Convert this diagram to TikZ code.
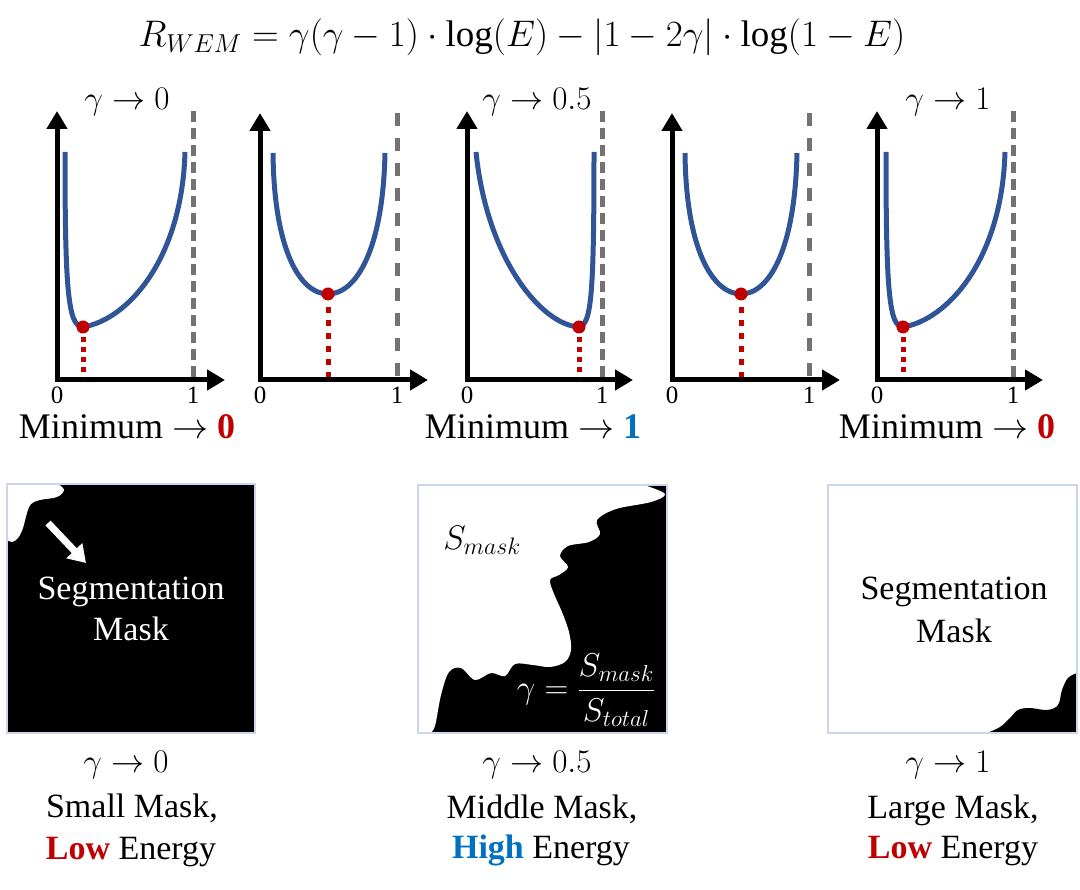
\RequirePackage{fix-cm}
\documentclass[tikz,border=0pt]{standalone}
\usepackage{fontspec}
\setmainfont{Liberation Serif}
\usetikzlibrary{arrows.meta}
\definecolor{cblue}{HTML}{2F5597}
\definecolor{cgray}{HTML}{767171}
\definecolor{cred}{HTML}{C00000}
\definecolor{hblue}{HTML}{0070C0}
\definecolor{edgeblue}{HTML}{C9D6EE}
\tikzset{
  axisline/.style={black, line width=5pt, line cap=rect, -{Triangle[length=18pt,width=20pt]}},
  curveline/.style={cblue, line width=5pt},
  asymA/.style={cgray, line width=5pt, dash pattern=on 11pt off 6pt},
  asymB/.style={cgray, line width=5pt, dash pattern=on 13pt off 12pt},
  dropA/.style={cred, line width=5pt, dash pattern=on 5pt off 5pt},
  dropB/.style={cred, line width=5pt, dash pattern=on 6pt off 7pt},
  mindot/.style={circle, fill=cred, inner sep=0pt, minimum size=13pt},
  ticklab/.style={font=\fontsize{25}{28}\selectfont, inner sep=0pt, anchor=base},
  titlelab/.style={font=\fontsize{33}{36}\selectfont, inner sep=0pt, anchor=base},
  minlab/.style={font=\fontsize{36}{40}\selectfont, inner sep=0pt, anchor=base},
  masktxt/.style={font=\fontsize{34}{40}\selectfont, inner sep=0pt, anchor=base},
  bottxt/.style={font=\fontsize{34}{40}\selectfont, inner sep=0pt, anchor=base},
  botmath/.style={font=\fontsize{33}{36}\selectfont, inner sep=0pt, anchor=base},
  maskedge/.style={draw=edgeblue, line width=1.5pt},
  whitearrow/.style={white, line width=7pt, -{Triangle[length=17pt,width=21pt]}}
}
\begin{document}
\begin{tikzpicture}[x=1pt,y=-1pt]
\useasboundingbox (0,0) rectangle (1080,890);

% formula
\node[font=\fontsize{37}{42}\selectfont, inner sep=0pt, anchor=base] (formula) at (522,47)
  {$R_{WEM}=\gamma(\gamma-1)\cdot\log(E)-|1-2\gamma|\cdot\log(1-E)$};

% ---------- plot 1 ----------
\begin{scope}[shift={(57,0)}]
\coordinate (o1) at (0,380); \coordinate (yt1) at (0,111); \coordinate (xt1) at (168,380);
\coordinate (dt1) at (136,111); \coordinate (db1) at (136,378);
\coordinate (s1) at (8,152); \coordinate (m1) at (26,327); \coordinate (e1) at (128,152);
\coordinate (f1) at (26,378);
\draw[asymA] (dt1) -- (db1);
\draw[dropA] (m1) -- (f1);
\draw[curveline] (s1) .. controls (8,290) and (11,327) .. (m1) .. controls (70,320) and (125,260) .. (e1);
\node[mindot] (dot1) at (m1) {};
\draw[axisline] (o1) -- (yt1);
\draw[axisline] (o1) -- (xt1);
\node[ticklab] (z1) at (0,404) {0};
\node[ticklab] (u1) at (136,404) {1};
\node[titlelab] (t1) at (70,110) {$\gamma\rightarrow 0$};
\node[minlab] (n1) at (70,439) {Minimum $\rightarrow$ \textcolor{cred}{\textbf{0}}};
\end{scope}

% ---------- plot 2 ----------
\begin{scope}[shift={(260,0)}]
\coordinate (o2) at (0,380); \coordinate (yt2) at (0,113); \coordinate (xt2) at (168,380);
\coordinate (dt2) at (137,113); \coordinate (db2) at (137,378);
\coordinate (s2) at (13,153); \coordinate (m2) at (68,294); \coordinate (e2) at (125,153);
\coordinate (f2) at (68,378);
\draw[asymB] (dt2) -- (db2);
\draw[dropB] (m2) -- (f2);
\draw[curveline] (s2) .. controls (14,250) and (40,294) .. (m2) .. controls (96,294) and (123,250) .. (e2);
\node[mindot] (dot2) at (m2) {};
\draw[axisline] (o2) -- (yt2);
\draw[axisline] (o2) -- (xt2);
\node[ticklab] (z2) at (0,404) {0};
\node[ticklab] (u2) at (137,404) {1};
\end{scope}

% ---------- plot 3 ----------
\begin{scope}[shift={(467,0)}]
\coordinate (o3) at (0,380); \coordinate (yt3) at (0,111); \coordinate (xt3) at (166,380);
\coordinate (dt3) at (135,111); \coordinate (db3) at (135,378);
\coordinate (s3) at (9,152); \coordinate (m3) at (112,327); \coordinate (e3) at (127,152);
\coordinate (f3) at (112,378);
\draw[asymA] (dt3) -- (db3);
\draw[dropA] (m3) -- (f3);
\draw[curveline] (s3) .. controls (20,260) and (75,325) .. (m3) .. controls (124,324) and (127,300) .. (e3);
\node[mindot] (dot3) at (m3) {};
\draw[axisline] (o3) -- (yt3);
\draw[axisline] (o3) -- (xt3);
\node[ticklab] (z3) at (0,404) {0};
\node[ticklab] (u3) at (135,404) {1};
\node[titlelab] (t3) at (70,110) {$\gamma\rightarrow 0.5$};
\node[minlab] (n3) at (66,439) {Minimum $\rightarrow$ \textcolor{hblue}{\textbf{1}}};
\end{scope}

% ---------- plot 4 ----------
\begin{scope}[shift={(672,0)}]
\coordinate (o4) at (0,380); \coordinate (yt4) at (0,113); \coordinate (xt4) at (168,380);
\coordinate (dt4) at (137,113); \coordinate (db4) at (137,378);
\coordinate (s4) at (13,153); \coordinate (m4) at (69,294); \coordinate (e4) at (125,153);
\coordinate (f4) at (69,378);
\draw[asymB] (dt4) -- (db4);
\draw[dropB] (m4) -- (f4);
\draw[curveline] (s4) .. controls (14,250) and (41,294) .. (m4) .. controls (97,294) and (123,250) .. (e4);
\node[mindot] (dot4) at (m4) {};
\draw[axisline] (o4) -- (yt4);
\draw[axisline] (o4) -- (xt4);
\node[ticklab] (z4) at (0,404) {0};
\node[ticklab] (u4) at (137,404) {1};
\end{scope}

% ---------- plot 5 ----------
\begin{scope}[shift={(877,0)}]
\coordinate (o5) at (0,380); \coordinate (yt5) at (0,111); \coordinate (xt5) at (166,380);
\coordinate (dt5) at (136,111); \coordinate (db5) at (136,378);
\coordinate (s5) at (9,152); \coordinate (m5) at (26,327); \coordinate (e5) at (128,152);
\coordinate (f5) at (26,378);
\draw[asymA] (dt5) -- (db5);
\draw[dropA] (m5) -- (f5);
\draw[curveline] (s5) .. controls (9,290) and (12,327) .. (m5) .. controls (70,320) and (125,260) .. (e5);
\node[mindot] (dot5) at (m5) {};
\draw[axisline] (o5) -- (yt5);
\draw[axisline] (o5) -- (xt5);
\node[ticklab] (z5) at (0,404) {0};
\node[ticklab] (u5) at (136,404) {1};
\node[titlelab] (t5) at (71,110) {$\gamma\rightarrow 1$};
\node[minlab] (n5) at (70,439) {Minimum $\rightarrow$ \textcolor{cred}{\textbf{0}}};
\end{scope}

% ---------- mask 1 (small) ----------
\fill[black] (7,484) rectangle (255,733);
\fill[white] (7,484) -- plot[smooth, tension=0.6] coordinates {(58,484) (64,490) (57,497) (40,500) (31,504) (27,513) (23,528) (18,538) (12,542) (7,540)} -- cycle;
\draw[maskedge] (7,484) rectangle (255,733);
\coordinate (a1s) at (48,523); \coordinate (a1e) at (86,563);
\draw[whitearrow] (a1s) -- (a1e);
\node[masktxt, text=white] (sm1) at (131,600) {Segmentation};
\node[masktxt, text=white] (mm1) at (131,641) {Mask};

% ---------- mask 2 (middle) ----------
\fill[black] (418,485) rectangle (667,733);
\fill[white] (418,485) -- plot[smooth, tension=0.55] coordinates {(644,485) (665,494) (651,502) (616,509) (597,520) (600,534) (589,542) (568,546) (560,556) (568,567) (559,575) (550,580) (554,594) (562,612) (569,632) (571,650) (565,662) (550,667) (533,665) (515,664) (505,676) (491,673) (475,680) (461,668) (449,672) (441,695) (435,726) (430,733)} -- (418,733) -- cycle;
\draw[maskedge] (418,485) rectangle (667,733);
\node[font=\fontsize{34}{38}\selectfont, inner sep=0pt] (smask) at (482,540) {$S_{mask}$};
\node[font=\fontsize{33}{36}\selectfont, inner sep=0pt, text=white] (gfrac) at (586,690) {$\displaystyle\gamma=\frac{S_{mask}}{S_{total}}$};

% ---------- mask 3 (large) ----------
\fill[white] (828,485) rectangle (1077,733);
\fill[black] (1077,733) -- (1077,673) -- plot[smooth, tension=0.6] coordinates {(1077,673) (1068,678) (1062,690) (1058,705) (1047,710) (1030,708) (1018,710) (1010,718) (1000,727) (987,733)} -- cycle;
\draw[maskedge] (828,485) rectangle (1077,733);
\node[masktxt] (sm3) at (954,600) {Segmentation};
\node[masktxt] (mm3) at (954,642) {Mask};

% ---------- bottom captions ----------
\node[botmath] (g1) at (126,772) {$\gamma\rightarrow 0$};
\node[bottxt] (c1) at (132,817) {Small Mask,};
\node[bottxt] (l1) at (131,859) {\textcolor{cred}{\textbf{Low}} Energy};

\node[botmath] (g2) at (537,772) {$\gamma\rightarrow 0.5$};
\node[bottxt] (c2) at (542,818) {Middle Mask,};
\node[bottxt] (l2) at (541,858) {\textcolor{hblue}{\textbf{High}} Energy};

\node[botmath] (g3) at (948,772) {$\gamma\rightarrow 1$};
\node[bottxt] (c3) at (953,818) {Large Mask,};
\node[bottxt] (l3) at (953,858) {\textcolor{cred}{\textbf{Low}} Energy};
\end{tikzpicture}
\end{document}
